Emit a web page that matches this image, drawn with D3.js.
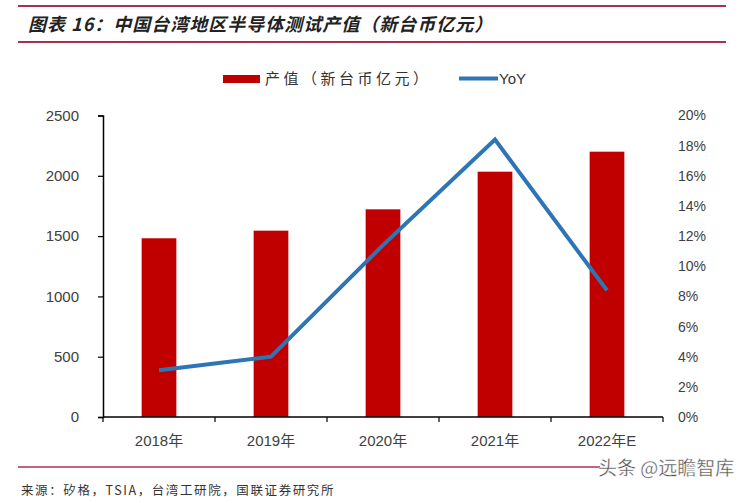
<!DOCTYPE html>
<html><head><meta charset="utf-8">
<script src="https://cdn.jsdelivr.net/npm/d3@7"></script>
<style>
body{margin:0;background:#fff;}
svg{display:block;font-family:Arial,"Liberation Sans","Noto Sans CJK SC",sans-serif;}
</style></head>
<body><svg id="c" width="750" height="503"></svg>
<script>
const categories = ["2018年","2019年","2020年","2021年","2022年E"];
const outputValues = [1482, 1545, 1722, 2034, 2200];
const yoyValues = [3.1, 4.0, 11.4, 18.4, 8.4];
const leftTicks = [0, 500, 1000, 1500, 2000, 2500];
const rightTicks = [0, 2, 4, 6, 8, 10, 12, 14, 16, 18, 20];
const legendLabels = ["产值（新台币亿元）", "YoY"];
const titleText = "图表 16：中国台湾地区半导体测试产值（新台币亿元）";
const sourceText = "来源：矽格，TSIA，台湾工研院，国联证券研究所";
const watermark = "头条 @远瞻智库";

const svg = d3.select("#c");
const barColor = "#c00000", lineColor = "#2e75b6", cjk = "'Noto Sans CJK SC',sans-serif";

// header lines & title
svg.append("line").attr("x1",18).attr("x2",726).attr("y1",6).attr("y2",6).attr("stroke","#a8324e").attr("stroke-width",2);
svg.append("line").attr("x1",18).attr("x2",726).attr("y1",42).attr("y2",42).attr("stroke","#a8324e").attr("stroke-width",2);
svg.append("text").attr("x",28).attr("y",31).text(titleText)
  .attr("font-family",cjk).attr("font-size",18).attr("letter-spacing",1).attr("font-weight","bold").attr("font-style","italic").attr("fill","#222");

const x = d3.scaleBand().domain(categories).range([103,663]).padding(0);
const yL = d3.scaleLinear().domain([0,2500]).range([417,115.5]);
const yR = d3.scaleLinear().domain([0,20]).range([417,115.5]);
const bw = x.bandwidth()*0.31;

// bars
svg.append("g").selectAll("rect").data(outputValues).join("rect")
  .attr("x",(d,i)=>x(categories[i])+x.bandwidth()/2-bw/2)
  .attr("width",bw)
  .attr("y",d=>yL(d)).attr("height",d=>yL(0)-yL(d))
  .attr("fill",barColor);

// left axis
const gl = svg.append("g").attr("transform","translate(103,0)")
  .call(d3.axisLeft(yL).tickValues(leftTicks).tickSize(5).tickPadding(19).tickFormat(d3.format("d")));
gl.select(".domain").attr("stroke","#000").attr("stroke-width",1.5);
gl.selectAll(".tick line").attr("stroke","#000").attr("stroke-width",1.2);
gl.selectAll("text").attr("font-size",15).attr("fill","#404040").attr("font-family","Arial,'Liberation Sans',sans-serif");

// right axis (labels only)
const gr = svg.append("g").attr("transform","translate(663,0)")
  .call(d3.axisRight(yR).tickValues(rightTicks).tickSize(0).tickPadding(15).tickFormat(d=>d+"%"));
gr.select(".domain").remove();
gr.selectAll("text").attr("font-size",14).attr("fill","#404040").attr("font-family","Arial,'Liberation Sans',sans-serif");

// x axis
const gx = svg.append("g").attr("transform","translate(0,417)");
gx.append("line").attr("x1",x.range()[0]).attr("x2",x.range()[1]).attr("stroke","#000").attr("stroke-width",1.5);
const bounds = categories.map(c=>x(c)).concat([x.range()[1]]);
gx.selectAll("line.tk").data(bounds).join("line").attr("class","tk")
  .attr("x1",d=>d).attr("x2",d=>d).attr("y1",0).attr("y2",5).attr("stroke","#000").attr("stroke-width",1.2);
gx.selectAll("text").data(categories).join("text")
  .attr("x",d=>x(d)+x.bandwidth()/2).attr("y",29).attr("text-anchor","middle")
  .attr("font-size",15).attr("fill","#404040").attr("font-family","Arial,'Noto Sans CJK SC',sans-serif").text(d=>d);

// line
const line = d3.line().x((d,i)=>x(categories[i])+x.bandwidth()/2).y(d=>yR(d));
svg.append("path").datum(yoyValues).attr("d",line).attr("fill","none")
  .attr("stroke",lineColor).attr("stroke-width",4).attr("stroke-linejoin","miter");

// legend
svg.append("rect").attr("x",223).attr("y",75).attr("width",37).attr("height",8).attr("fill",barColor);
svg.append("text").attr("x",265).attr("y",84).text(legendLabels[0]).attr("font-family",cjk)
  .attr("font-size",15).attr("fill","#333").attr("letter-spacing",3.5);
svg.append("line").attr("x1",459).attr("x2",498).attr("y1",78.5).attr("y2",78.5).attr("stroke",lineColor).attr("stroke-width",4);
svg.append("text").attr("x",499).attr("y",84).text(legendLabels[1]).attr("font-family","Arial,'Liberation Sans',sans-serif")
  .attr("font-size",15).attr("fill","#333");

// footer
svg.append("line").attr("x1",18).attr("x2",600).attr("y1",467).attr("y2",467).attr("stroke","#a8324e").attr("stroke-width",1.5);
svg.append("text").attr("x",21).attr("y",495).text(sourceText).attr("font-family",cjk).attr("font-size",12.5).attr("letter-spacing",1.6).attr("fill","#333");
svg.append("text").attr("x",598).attr("y",475).text(watermark).attr("font-family",cjk).attr("font-size",19).attr("fill","#555")
  .attr("stroke","#fff").attr("stroke-width",0.3);
</script></body></html>
